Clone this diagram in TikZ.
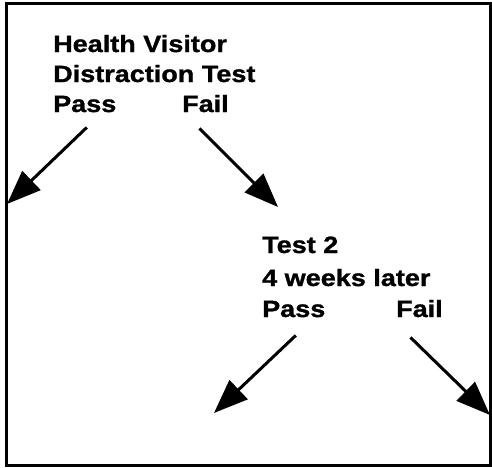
\documentclass[tikz,border=0pt]{standalone}
\usepackage{fontspec}
\newfontfamily\hvfont{Liberation Sans}[FakeStretch=1.15,BoldFeatures={FakeBold=1.2}]
\usepackage{tikz}
\usetikzlibrary{positioning,arrows.meta}

\begin{document}
\begin{tikzpicture}[x=1pt,y=-1pt,
  lbl/.style={anchor=base west,inner sep=0pt,font=\hvfont\bfseries\fontsize{23.5}{30}\selectfont},
  arr/.style={line width=3pt,-{Triangle[length=34pt,width=26pt]}}]
  \useasboundingbox (0,0) rectangle (492,467);
  \draw[line width=3pt] (6,3) rectangle (490,465);
  % first test
  \node[lbl] (hv1) at (53,52) {Health Visitor};
  \node[lbl] (hv2) at (53,82) {Distraction Test};
  \node[lbl] (pass1) at (53,112) {Pass};
  \node[lbl] (fail1) at (182,112) {Fail};
  % second test
  \node[lbl] (t2a) at (262,253) {Test 2};
  \node[lbl] (t2b) at (262,286) {4 weeks later};
  \node[lbl] (pass2) at (262,317) {Pass};
  \node[lbl] (fail2) at (396,317) {Fail};
  \coordinate (out1) at (7,204);
  \coordinate (out2) at (278,207);
  \coordinate (out3) at (214,413);
  \coordinate (out4) at (490,415);
  \draw[arr] ([xshift=2pt,yshift=-15pt]pass1.south) -- (out1);
  \draw[arr] ([xshift=-6pt,yshift=-16pt]fail1.south) -- (out2);
  \draw[arr] ([xshift=2pt,yshift=-18pt]pass2.south) -- (out3);
  \draw[arr] ([xshift=-9pt,yshift=-20pt]fail2.south) -- (out4);
\end{tikzpicture}
\end{document}
